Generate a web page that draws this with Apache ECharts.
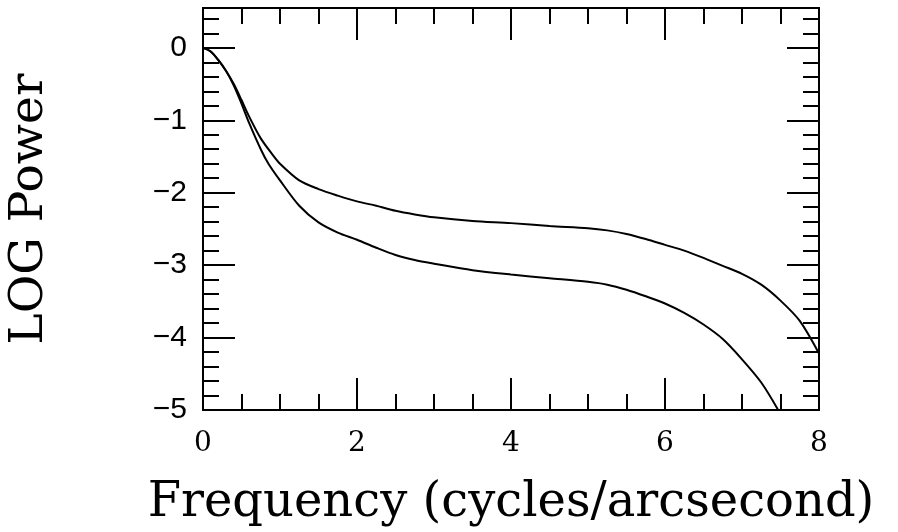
<!DOCTYPE html>
<html>
<head>
<meta charset="utf-8">
<title>LOG Power vs Frequency</title>
<script src="https://cdn.jsdelivr.net/npm/echarts@6/dist/echarts.min.js"></script>
<style>
  html, body { margin: 0; padding: 0; background: #fff; }
  #chart { width: 898px; height: 532px; }
</style>
</head>
<body>
<div id="chart"></div>
<script>
// upper curve
var freqUpper = [0, 0.1, 0.2, 0.3, 0.4, 0.5, 0.6, 0.75, 0.9, 1.0, 1.25, 1.5, 1.75, 2.0, 2.25, 2.5, 2.75, 3.0,
  3.5, 4.0, 4.5, 5.0, 5.25, 5.5, 5.75, 6.0, 6.25, 6.5, 6.75, 7.0, 7.25, 7.5, 7.75, 8.0];
var powerUpper = [0, -0.05, -0.17, -0.32, -0.5, -0.72, -0.95, -1.25, -1.47, -1.6, -1.83, -1.95, -2.04, -2.12, -2.18, -2.25, -2.3, -2.34,
  -2.39, -2.42, -2.46, -2.49, -2.52, -2.57, -2.64, -2.72, -2.8, -2.9, -3.01, -3.12, -3.27, -3.49, -3.77, -4.22];

// lower curve
var freqLower = [0, 0.1, 0.2, 0.3, 0.4, 0.5, 0.6, 0.75, 0.85, 1.0, 1.25, 1.5, 1.75, 2.0, 2.25, 2.5, 2.75, 3.0,
  3.5, 4.0, 4.5, 5.0, 5.25, 5.5, 5.75, 6.0, 6.25, 6.5, 6.75, 7.0, 7.25, 7.47];
var powerLower = [0, -0.05, -0.17, -0.32, -0.52, -0.77, -1.04, -1.4, -1.6, -1.83, -2.18, -2.41, -2.55, -2.65, -2.76, -2.86, -2.93, -2.98,
  -3.07, -3.13, -3.18, -3.23, -3.27, -3.34, -3.43, -3.53, -3.66, -3.82, -4.02, -4.3, -4.62, -5.0];

var xTickLabels = [0, 2, 4, 6, 8];
var yTickLabels = [-5, -4, -3, -2, -1, 0];

function pairs(xs, ys) {
  var out = [];
  for (var i = 0; i < xs.length; i++) out.push([xs[i], ys[i]]);
  return out;
}

var chart = echarts.init(document.getElementById('chart'));

var lineBlack = { color: '#000', width: 2 };

// builds one axis that only draws ticks (minor ones or major ones)
function tickAxis(pos, min, max, interval, len, extra) {
  var a = {
    type: 'value',
    position: pos,
    min: min,
    max: max,
    interval: interval,
    axisLine: { show: true, onZero: false, lineStyle: lineBlack },
    axisTick: { show: true, inside: true, length: len, lineStyle: lineBlack },
    axisLabel: { show: false },
    splitLine: { show: false }
  };
  for (var k in extra) a[k] = extra[k];
  return a;
}

var option = {
  animation: false,
  backgroundColor: '#fff',
  grid: { left: 203, right: 79, top: 8, bottom: 122, containLabel: false, outerBoundsMode: 'none' },
  xAxis: [
    tickAxis('bottom', 0, 8, 2, 32, {
      name: 'Frequency (cycles/arcsecond)',
      nameLocation: 'middle',
      nameGap: 70,
      nameTextStyle: { fontFamily: 'DejaVu Serif', fontSize: 48, color: '#000' },
      axisLabel: {
        show: true,
        margin: 20,
        fontFamily: 'DejaVu Serif',
        fontSize: 28,
        color: '#000',
        formatter: function (v) { return xTickLabels.indexOf(v) >= 0 ? String(v) : ''; }
      }
    }),
    tickAxis('bottom', 0, 8, 0.5, 16, {}),
    tickAxis('top', 0, 8, 2, 32, {}),
    tickAxis('top', 0, 8, 0.5, 16, {})
  ],
  yAxis: [
    tickAxis('left', -5, 0.55, 1, 32, {
      name: 'LOG Power',
      nameLocation: 'middle',
      nameGap: 150,
      nameTextStyle: { fontFamily: 'DejaVu Serif', fontSize: 47, color: '#000' },
      axisLabel: {
        show: true,
        margin: 16,
        fontFamily: 'Liberation Sans',
        fontSize: 30,
        color: '#000',
        formatter: function (v) {
          if (yTickLabels.indexOf(v) < 0) return '';
          return v < 0 ? '\u2212' + Math.abs(v) : String(v);
        }
      }
    }),
    tickAxis('left', -5, 0.55, 0.2, 16, {}),
    tickAxis('right', -5, 0.55, 1, 32, {}),
    tickAxis('right', -5, 0.55, 0.2, 16, {})
  ],
  series: [{
    type: 'line',
    data: pairs(freqUpper, powerUpper),
    showSymbol: false,
    smooth: 0.3,
    lineStyle: lineBlack
  }, {
    type: 'line',
    data: pairs(freqLower, powerLower),
    showSymbol: false,
    smooth: 0.3,
    lineStyle: lineBlack
  }]
};

chart.setOption(option);
</script>
</body>
</html>
